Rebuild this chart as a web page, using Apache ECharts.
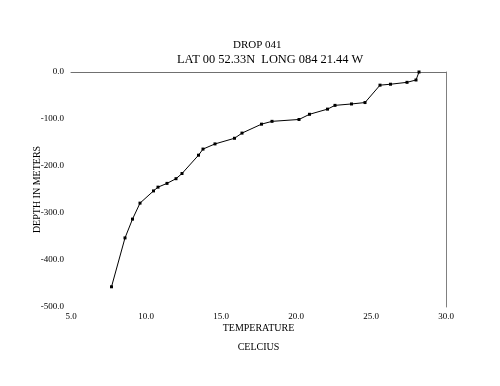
<!DOCTYPE html>
<html>
<head>
<meta charset="utf-8">
<script src="https://cdn.jsdelivr.net/npm/echarts@6/dist/echarts.min.js"></script>
<style>html,body{margin:0;padding:0;background:#fff;}#c{width:500px;height:386px;}</style>
</head>
<body>
<div id="c"></div>
<script>
var temperature = [7.7, 8.6, 9.1, 9.6, 10.5, 10.8, 11.4, 12.0, 12.4, 13.5, 13.8, 14.6, 15.9, 16.4, 17.7, 18.4, 20.2, 20.9, 22.1, 22.6, 23.7, 24.6, 25.6, 26.3, 27.4, 28.0, 28.2];
var depth = [-457, -353, -313, -279, -253, -245, -237, -227, -216, -177, -164, -153, -141, -130, -111, -105, -101, -90, -79, -71, -68, -65, -28, -26, -22, -17, 0];
var titleLines = ['DROP 041', 'LAT 00 52.33N  LONG 084 21.44 W'];
var xName = 'TEMPERATURE\nCELCIUS';
var yName = 'DEPTH IN METERS';

var pts = temperature.map(function (t, i) { return [t, depth[i]]; });
var FONT = 'Liberation Serif';
var chart = echarts.init(document.getElementById('c'), null, {renderer: 'canvas'});
chart.setOption({
  animation: false,
  backgroundColor: '#ffffff',
  title: [
    {text: titleLines[0], left: 228, top: 35, padding: 5, textStyle: {fontFamily: FONT, fontSize: 11, fontWeight: 'normal', color: '#000'}},
    {text: titleLines[1], left: 172, top: 49, padding: 5, textStyle: {fontFamily: FONT, fontSize: 12.4, fontWeight: 'normal', color: '#000'}}
  ],
  grid: {left: 71, right: 54, top: 72, bottom: 79},
  xAxis: [
    {
      type: 'value', min: 5, max: 30, interval: 5, position: 'bottom',
      axisLine: {show: false}, axisTick: {show: false}, splitLine: {show: false},
      axisLabel: {fontFamily: FONT, fontSize: 9, color: '#000', margin: 5, formatter: function (v) { return v.toFixed(1); }},
      name: xName, nameLocation: 'middle', nameGap: 12, nameMoveOverlap: false,
      nameTextStyle: {fontFamily: FONT, fontSize: 10, color: '#000', lineHeight: 19}
    },
    {
      type: 'value', min: 5, max: 30, interval: 5, position: 'top',
      axisLine: {show: true, onZero: false, lineStyle: {color: '#707070', width: 1}},
      axisTick: {show: false}, splitLine: {show: false}, axisLabel: {show: false}
    }
  ],
  yAxis: [
    {
      type: 'value', min: -500, max: 0, interval: 100, position: 'left',
      axisLine: {show: false}, axisTick: {show: false}, splitLine: {show: false},
      axisLabel: {fontFamily: FONT, fontSize: 9, color: '#000', margin: 7, formatter: function (v) { return v.toFixed(1); }},
      name: yName, nameLocation: 'middle', nameGap: 29, nameRotate: 90, nameMoveOverlap: false,
      nameTextStyle: {fontFamily: FONT, fontSize: 10, color: '#000'}
    },
    {
      type: 'value', min: -500, max: 0, interval: 100, position: 'right',
      axisLine: {show: true, onZero: false, lineStyle: {color: '#808080', width: 1}},
      axisTick: {show: false}, splitLine: {show: false}, axisLabel: {show: false}
    }
  ],
  series: [{
    type: 'line', data: pts, xAxisIndex: 0, yAxisIndex: 0,
    symbol: 'rect', symbolSize: 3, showAllSymbol: true,
    lineStyle: {color: '#000', width: 1},
    itemStyle: {color: '#000'}
  }]
});
</script>
</body>
</html>
